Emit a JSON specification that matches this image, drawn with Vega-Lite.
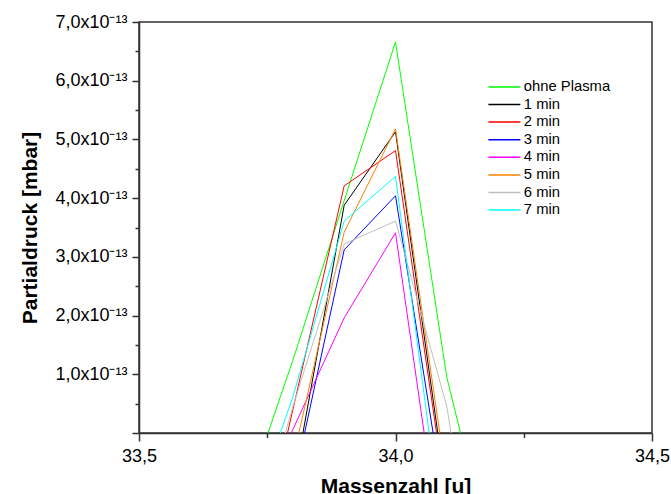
{
  "$schema": "https://vega.github.io/schema/vega-lite/v6.json",
  "width": 513,
  "height": 411,
  "autosize": {"type": "none"},
  "padding": {"left": 139, "top": 22, "right": 19, "bottom": 61},
  "background": "white",
  "config": {"view": {"stroke": "#333333", "strokeWidth": 1.5}, "font": "Liberation Sans"},
  "data": {"values": [
    {"series": "ohne Plasma", "mass": 33.7, "pressure": -1.31e-13},
    {"series": "ohne Plasma", "mass": 33.8, "pressure": 1.24e-13},
    {"series": "ohne Plasma", "mass": 33.9, "pressure": 3.96e-13},
    {"series": "ohne Plasma", "mass": 34.0, "pressure": 6.66e-13},
    {"series": "ohne Plasma", "mass": 34.1, "pressure": 0.95e-13},
    {"series": "ohne Plasma", "mass": 34.2, "pressure": -2.6e-13},
    {"series": "1 min", "mass": 33.8, "pressure": -0.94e-13},
    {"series": "1 min", "mass": 33.9, "pressure": 3.88e-13},
    {"series": "1 min", "mass": 34.0, "pressure": 5.13e-13},
    {"series": "1 min", "mass": 34.1, "pressure": -1.09e-13},
    {"series": "2 min", "mass": 33.7, "pressure": -3.4e-13},
    {"series": "2 min", "mass": 33.8, "pressure": 0.4e-13},
    {"series": "2 min", "mass": 33.9, "pressure": 4.21e-13},
    {"series": "2 min", "mass": 34.0, "pressure": 4.81e-13},
    {"series": "2 min", "mass": 34.1, "pressure": -1.2e-13},
    {"series": "3 min", "mass": 33.8, "pressure": -0.92e-13},
    {"series": "3 min", "mass": 33.9, "pressure": 3.12e-13},
    {"series": "3 min", "mass": 34.0, "pressure": 4.04e-13},
    {"series": "3 min", "mass": 34.1, "pressure": -1.47e-13},
    {"series": "4 min", "mass": 33.7, "pressure": -1.83e-13},
    {"series": "4 min", "mass": 33.8, "pressure": 0.06e-13},
    {"series": "4 min", "mass": 33.9, "pressure": 1.96e-13},
    {"series": "4 min", "mass": 34.0, "pressure": 3.41e-13},
    {"series": "4 min", "mass": 34.1, "pressure": -2.69e-13},
    {"series": "5 min", "mass": 33.8, "pressure": -0.45e-13},
    {"series": "5 min", "mass": 33.9, "pressure": 3.42e-13},
    {"series": "5 min", "mass": 34.0, "pressure": 5.18e-13},
    {"series": "5 min", "mass": 34.1, "pressure": -0.82e-13},
    {"series": "6 min", "mass": 33.7, "pressure": -2.6e-13},
    {"series": "6 min", "mass": 33.8, "pressure": 0.45e-13},
    {"series": "6 min", "mass": 33.9, "pressure": 3.22e-13},
    {"series": "6 min", "mass": 34.0, "pressure": 3.61e-13},
    {"series": "6 min", "mass": 34.1, "pressure": 0.45e-13},
    {"series": "6 min", "mass": 34.2, "pressure": -5.0e-13},
    {"series": "7 min", "mass": 33.7, "pressure": -1.93e-13},
    {"series": "7 min", "mass": 33.8, "pressure": 0.62e-13},
    {"series": "7 min", "mass": 33.9, "pressure": 3.61e-13},
    {"series": "7 min", "mass": 34.0, "pressure": 4.37e-13},
    {"series": "7 min", "mass": 34.1, "pressure": -2.29e-13}
  ]},
  "mark": {"type": "line", "clip": true, "strokeWidth": 1},
  "encoding": {
    "x": {
      "field": "mass",
      "type": "quantitative",
      "scale": {"domain": [33.5, 34.5], "nice": false, "zero": false},
      "axis": {
        "title": "Massenzahl [u]",
        "values": [33.5, 33.75, 34.0, 34.25, 34.5],
        "labelExpr": "round(datum.value*2) == datum.value*2 ? replace(format(datum.value, '.1f'), '.', ',') : ''",
        "tickSize": {"condition": {"test": "round(datum.value*2) == datum.value*2", "value": 8}, "value": 4.5},
        "labelFlush": false,
        "labelFontSize": 18,
        "labelPadding": 6,
        "labelColor": "black",
        "titleFontSize": 21,
        "titleFontWeight": "bold",
        "titleColor": "black",
        "titlePadding": 10,
        "domainColor": "#333333",
        "domainWidth": 1.5,
        "tickColor": "#333333",
        "tickWidth": 1.5,
        "grid": false
      }
    },
    "y": {
      "field": "pressure",
      "type": "quantitative",
      "scale": {"domain": [0, 7e-13], "nice": false, "zero": false},
      "axis": {
        "title": "Partialdruck [mbar]",
        "values": [0, 5e-14, 1e-13, 1.5e-13, 2e-13, 2.5e-13, 3e-13, 3.5e-13, 4e-13, 4.5e-13, 5e-13, 5.5e-13, 6e-13, 6.5e-13, 7e-13],
        "labelExpr": "datum.value < 5e-14 || round(datum.value*2e13) % 2 == 1 ? '' : replace(format(datum.value*1e13, '.1f'), '.', ',') + 'x10⁻¹³'",
        "tickSize": {"condition": {"test": "round(datum.value*2e13) % 2 == 0", "value": 7}, "value": 4},
        "labelOverlap": false,
        "labelFlush": false,
        "labelFontSize": 18,
        "labelPadding": 5,
        "labelColor": "black",
        "titleFontSize": 21,
        "titleFontWeight": "bold",
        "titleColor": "black",
        "titlePadding": 14,
        "domainColor": "#333333",
        "domainWidth": 1.5,
        "tickColor": "#333333",
        "tickWidth": 1.5,
        "grid": false
      }
    },
    "color": {
      "field": "series",
      "type": "nominal",
      "scale": {
        "domain": ["ohne Plasma", "1 min", "2 min", "3 min", "4 min", "5 min", "6 min", "7 min"],
        "range": ["#00FF00", "#000000", "#FF0000", "#0000FF", "#FF00FF", "#FF8000", "#C0C0C0", "#00FFFF"]
      },
      "legend": {
        "orient": "none",
        "legendX": 358,
        "legendY": 57.5,
        "title": null,
        "symbolType": "M-4,0H4",
        "symbolSize": 64,
        "symbolStrokeWidth": 1.5,
        "labelFontSize": 14.8,
        "labelOffset": 12,
        "labelColor": "black",
        "rowPadding": 1.6,
        "padding": 0
      }
    }
  }
}
